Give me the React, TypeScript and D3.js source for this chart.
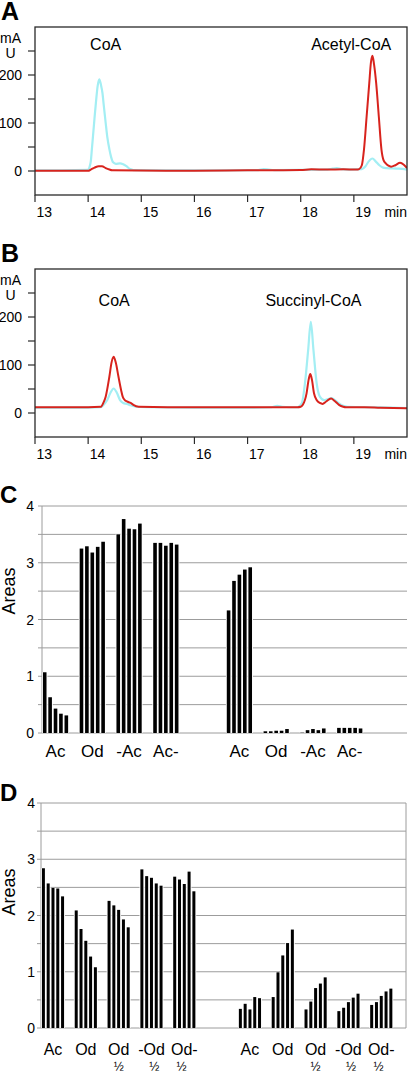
import React from 'react';
import * as d3 from 'd3';

const FONT = '"Liberation Sans", Arial, Helvetica, sans-serif';

// ---------- Chromatogram axes ----------
const timeTicks = [13, 14, 15, 16, 17, 18, 19];
const absTicks = [0, 50, 100, 150, 200, 250];
const absLabels = [0, 100, 200];

// ---------- Panel A traces [time (min), absorbance (mAU)] ----------
const aCyan: [number, number][] = [
  [13, 1.5], [13.5, 1.5], [14.0, 2.5], [14.03, 10], [14.05, 20], [14.07, 45], [14.09, 71], [14.12, 110],
  [14.145, 141], [14.18, 178], [14.21, 191], [14.24, 180], [14.27, 162], [14.29, 141], [14.33, 100],
  [14.36, 71], [14.4, 45], [14.43, 30], [14.47, 18], [14.52, 15], [14.6, 16], [14.66, 14], [14.72, 10],
  [14.79, 4], [14.85, 2], [15.5, 1.5], [16.5, 1.5], [17.2, 2], [17.3, 4], [17.4, 3], [17.5, 2],
  [18.5, 3], [18.6, 5], [18.68, 6], [18.76, 4], [18.9, 3], [19.15, 4], [19.22, 10], [19.28, 20],
  [19.35, 26], [19.41, 20], [19.48, 12], [19.55, 7], [19.62, 6], [19.8, 5], [19.95, 4], [20, 3],
];
const aRed: [number, number][] = [
  [13, 0.5], [14.0, 0.5], [14.05, 3], [14.12, 7], [14.2, 10], [14.26, 10], [14.33, 6], [14.4, 3],
  [14.45, 1.5], [16, 0.5], [17, 1.5], [18, 2], [18.2, 3.5], [18.5, 3], [18.8, 3.5], [19.05, 3],
  [19.1, 4], [19.15, 12], [19.19, 44], [19.24, 113], [19.29, 183], [19.32, 225], [19.35, 240],
  [19.38, 222], [19.42, 183], [19.47, 113], [19.52, 44], [19.56, 22], [19.6, 16], [19.65, 11],
  [19.7, 9], [19.78, 12], [19.87, 17], [19.94, 13], [20, 6],
];
const aNotes = [
  { text: 'CoA', t: 14.33, v: 252 },
  { text: 'Acetyl-CoA', t: 18.95, v: 252 },
];

// ---------- Panel B traces ----------
const bCyan: [number, number][] = [
  [13, 11], [14.0, 11], [14.24, 12], [14.3, 18], [14.36, 27], [14.42, 42], [14.48, 51], [14.54, 42],
  [14.6, 27], [14.66, 21], [14.73, 19], [14.8, 16], [14.9, 13], [15.1, 12], [16, 11], [17, 11],
  [17.45, 12], [17.56, 15], [17.65, 13], [17.8, 12], [17.94, 12], [18.02, 20], [18.08, 62],
  [18.14, 131], [18.19, 190], [18.24, 131], [18.3, 62], [18.36, 34], [18.44, 27], [18.51, 29],
  [18.58, 31], [18.65, 26], [18.72, 20], [18.8, 15], [18.88, 13], [19.2, 12], [19.5, 12], [20, 10],
];
const bRed: [number, number][] = [
  [13, 12], [14.0, 12], [14.24, 13], [14.29, 22], [14.33, 34], [14.4, 76], [14.44, 105], [14.48, 117],
  [14.52, 105], [14.57, 76], [14.62, 48], [14.65, 34], [14.69, 27], [14.73, 24], [14.8, 21],
  [14.85, 17], [14.95, 13], [15.5, 12], [17, 12], [17.5, 12], [17.94, 12], [18.0, 13], [18.04, 17],
  [18.11, 41], [18.15, 70], [18.18, 81], [18.21, 70], [18.25, 41], [18.3, 27], [18.36, 21],
  [18.41, 19], [18.48, 24], [18.57, 30], [18.64, 25], [18.72, 17], [18.8, 13], [18.85, 12],
  [19.2, 12], [19.5, 11], [20, 10],
];
const bNotes = [
  { text: 'CoA', t: 14.49, v: 223 },
  { text: 'Succinyl-CoA', t: 18.24, v: 223 },
];

// ---------- Panel C ----------
const cSlots = ['c0', 'c1', 'c2', 'c3', 'gap', 'c4', 'c5', 'c6', 'c7', 'end'];
const cLabels = ['Ac', 'Od', '-Ac', 'Ac-', 'Ac', 'Od', '-Ac', 'Ac-'];
const cValues = [
  [1.07, 0.63, 0.43, 0.34, 0.31],
  [3.25, 3.29, 3.18, 3.28, 3.37],
  [3.5, 3.77, 3.6, 3.59, 3.69],
  [3.35, 3.35, 3.3, 3.35, 3.32],
  [2.16, 2.68, 2.79, 2.88, 2.92],
  [0.03, 0.03, 0.04, 0.04, 0.07],
  [0.005, 0.05, 0.07, 0.05, 0.08],
  [0.09, 0.09, 0.09, 0.09, 0.08],
];

// ---------- Panel D ----------
const dSlots = ['d0', 'd1', 'd2', 'd3', 'd4', 'gap', 'd5', 'd6', 'd7', 'd8', 'd9'];
const dLabels = ['Ac', 'Od', 'Od', '-Od', 'Od-', 'Ac', 'Od', 'Od', '-Od', 'Od-'];
const dSubs = ['', '', '½', '½', '½', '', '', '½', '½', '½'];
const dValues = [
  [2.84, 2.57, 2.49, 2.48, 2.34],
  [2.09, 1.76, 1.55, 1.27, 1.08],
  [2.26, 2.18, 2.1, 1.93, 1.79],
  [2.82, 2.7, 2.67, 2.57, 2.53],
  [2.69, 2.64, 2.56, 2.78, 2.43],
  [0.34, 0.43, 0.33, 0.55, 0.53],
  [0.55, 0.99, 1.29, 1.51, 1.75],
  [0.33, 0.47, 0.71, 0.79, 0.9],
  [0.3, 0.36, 0.46, 0.54, 0.61],
  [0.41, 0.46, 0.57, 0.65, 0.7],
];

const areaTicks = [0, 1, 2, 3, 4];
const areaGrid = [0, 0.5, 1, 1.5, 2, 2.5, 3, 3.5, 4];
const reps = [0, 1, 2, 3, 4];

type ChromProps = {
  letter: string; letterY: number; top: number; bottom: number;
  cyan: [number, number][]; red: [number, number][];
  notes: { text: string; t: number; v: number }[];
};

function Chrom({ letter, letterY, top, bottom, cyan, red, notes }: ChromProps) {
  const left = 35, right = 407;
  const x = d3.scaleLinear().domain([13, 20]).range([left, right]);
  const y = d3.scaleLinear().domain([-50, 300]).range([bottom, top]);
  const line = d3.line<[number, number]>().x(d => x(d[0])).y(d => y(d[1])).curve(d3.curveMonotoneX);
  const clip = 'clip-' + letter;
  return (
    <g>
      <text x={1} y={letterY} fontSize={25} fontWeight="bold">{letter}</text>
      <defs>
        <clipPath id={clip}><rect x={left} y={top} width={right - left} height={bottom - top} /></clipPath>
      </defs>
      <g clipPath={`url(#${clip})`}>
        <path d={line(cyan) || ''} fill="none" stroke="#a3eef3" strokeWidth={2.2} strokeLinejoin="round" />
        <path d={line(red) || ''} fill="none" stroke="#d8231d" strokeWidth={2} strokeLinejoin="round" />
      </g>
      <rect x={left} y={top} width={right - left} height={bottom - top} fill="none" stroke="#2a2a2a" strokeWidth={1.3} />
      {absTicks.map(v => (
        <line key={'yt' + v} x1={left - 7} x2={left} y1={y(v)} y2={y(v)} stroke="#2a2a2a" strokeWidth={1.2} />
      ))}
      {absLabels.map(v => (
        <text key={'yl' + v} x={22} y={y(v) + 5} fontSize={14} textAnchor="end">{v}</text>
      ))}
      <text x={10.5} y={top + 16} fontSize={14} textAnchor="middle">mA</text>
      <text x={10.5} y={top + 31} fontSize={14} textAnchor="middle">U</text>
      {timeTicks.map(t => (
        <g key={'xt' + t}>
          <line x1={x(t)} x2={x(t)} y1={bottom} y2={bottom + 7} stroke="#2a2a2a" strokeWidth={1.2} />
          <text x={x(t) + 1.5} y={bottom + 21.5} fontSize={14}>{t}</text>
        </g>
      ))}
      <text x={right} y={bottom + 21.5} fontSize={14} textAnchor="end">min</text>
      {notes.map(n => (
        <text key={n.text} x={x(n.t)} y={y(n.v)} fontSize={16} textAnchor="middle">{n.text}</text>
      ))}
    </g>
  );
}

type BarProps = {
  letter: string; letterY: number; top: number; bottom: number; axisX: number; rangeEnd: number;
  gridEnd: number; slots: string[]; values: number[][]; labels: string[]; subs?: string[];
  padInner: number; padOuter: number; labelSize: number; labelDy: number; tickX: number;
  areasY: number; rightBorder: boolean;
};

function Bars(p: BarProps) {
  const y = d3.scaleLinear().domain([0, 4]).range([p.bottom, p.top]);
  const slotScale = d3.scaleBand<string>().domain(p.slots).range([p.axisX, p.rangeEnd])
    .paddingInner(p.padInner).paddingOuter(p.padOuter).align(0);
  const used = p.slots.filter(s => s !== 'gap' && s !== 'end');
  const inner = d3.scaleBand<number>().domain(reps).range([0, slotScale.bandwidth()]);
  const pitch = inner.bandwidth();
  const gap = 1.8;
  return (
    <g>
      <text x={0} y={p.letterY} fontSize={24} fontWeight="bold">{p.letter}</text>
      {areaGrid.map(v => (
        <line key={'g' + v} x1={p.axisX} x2={p.gridEnd} y1={y(v)} y2={y(v)} stroke="#9c9c9c" strokeWidth={1} />
      ))}
      {areaGrid.map(v => (
        <line key={'tk' + v} x1={p.axisX - 4} x2={p.axisX} y1={y(v)} y2={y(v)} stroke="#9c9c9c" strokeWidth={1} />
      ))}
      <line x1={p.axisX} x2={p.axisX} y1={y(0)} y2={y(4)} stroke="#9c9c9c" strokeWidth={1} />
      {p.rightBorder && (
        <line x1={p.gridEnd} x2={p.gridEnd} y1={y(0)} y2={y(4)} stroke="#9c9c9c" strokeWidth={1} />
      )}
      {areaTicks.map(v => (
        <text key={'yl' + v} x={p.tickX} y={y(v) + 5} fontSize={14} textAnchor="end">{v}</text>
      ))}
      <text transform={`translate(15,${p.areasY}) rotate(-90)`} fontSize={18} textAnchor="middle">Areas</text>
      {used.map((s, gi) => {
        const gx = slotScale(s) as number;
        return (
          <g key={s}>
            {p.values[gi].map((v, bi) => {
              const bx = gx + (inner(bi) as number);
              const h = y(0) - y(v);
              return (
                <g key={bi}>
                  <rect x={bx} y={y(v)} width={pitch} height={h} fill="#fff" />
                  <rect x={bx + gap / 2} y={y(v)} width={pitch - gap} height={h} fill="#000" />
                </g>
              );
            })}
          </g>
        );
      })}
      {used.map((s, gi) => {
        const cx = (slotScale(s) as number) + slotScale.bandwidth() / 2;
        const lab = p.labels[gi];
        const sub = p.subs ? p.subs[gi] : '';
        const off = lab.startsWith('-') ? 2.7 : lab.endsWith('-') ? -2.7 : 0;
        return (
          <g key={'l' + s}>
            <text x={cx} y={p.bottom + p.labelDy} fontSize={p.labelSize} textAnchor="middle">{lab}</text>
            {sub && (
              <text x={cx + off} y={p.bottom + p.labelDy + 16} fontSize={12} textAnchor="middle">{sub}</text>
            )}
          </g>
        );
      })}
    </g>
  );
}

export default function App() {
  return (
    <svg width={410} height={1073} viewBox="0 0 410 1073"
      style={{ position: 'absolute', left: 0, top: 0, display: 'block', background: '#fff' }}
      fontFamily={FONT} fill="#000">
      <rect x={0} y={0} width={410} height={1073} fill="#fff" />
      <Chrom letter="A" letterY={20} top={27} bottom={195} cyan={aCyan} red={aRed} notes={aNotes} />
      <Chrom letter="B" letterY={262} top={269} bottom={437} cyan={bCyan} red={bRed} notes={bNotes} />
      <Bars letter="C" letterY={503} top={506} bottom={733} axisX={42} rangeEnd={414} gridEnd={407}
        slots={cSlots} values={cValues} labels={cLabels} padInner={0.265} padOuter={0.19}
        labelSize={17} labelDy={24} tickX={34} areasY={591} rightBorder={false} />
      <Bars letter="D" letterY={801} top={803} bottom={1028} axisX={41} rangeEnd={409} gridEnd={406}
        slots={dSlots} values={dValues} labels={dLabels} subs={dSubs} padInner={0.27} padOuter={0.24}
        labelSize={16} labelDy={27} tickX={35} areasY={892} rightBorder={true} />
    </svg>
  );
}
